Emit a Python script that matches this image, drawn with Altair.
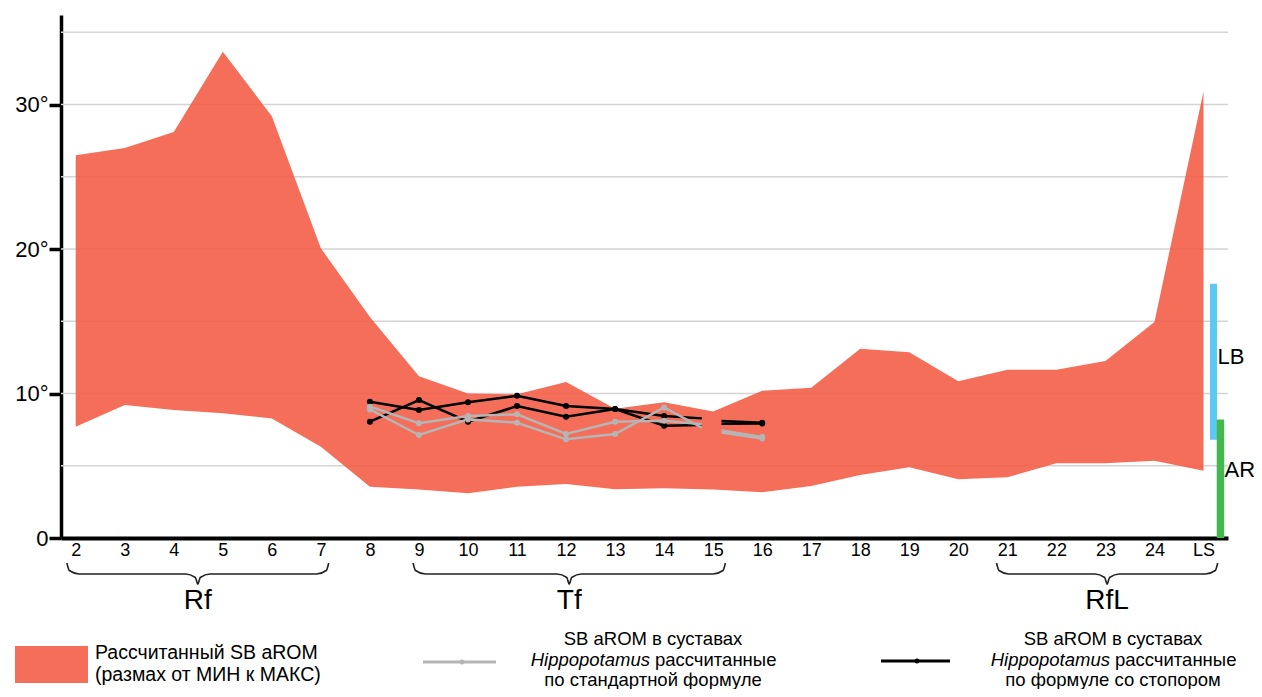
import altair as alt
import pandas as pd

# ---------------- data ----------------
positions = list(range(2, 26))
tick_text = [str(i) for i in range(2, 25)] + ["LS"]
arom_max = [26.5, 27.0, 28.1, 33.65, 29.2, 20.05, 15.3, 11.2, 10.0, 9.95, 10.8, 8.95,
            9.4, 8.75, 10.2, 10.4, 13.1, 12.85, 10.85, 11.65, 11.65, 12.25, 14.95, 30.9]
arom_min = [7.7, 9.2, 8.86, 8.63, 8.28, 6.32, 3.55, 3.35, 3.1, 3.55, 3.74, 3.37,
            3.44, 3.35, 3.16, 3.6, 4.36, 4.89, 4.06, 4.2, 5.17, 5.17, 5.35, 4.66]

hippo_x = [8, 9, 10, 11, 12, 13, 14, 14.77, 15.17, 16]
hippo_seg = [1, 1, 1, 1, 1, 1, 1, 1, 2, 2]
std_1 = [9.09, 7.94, 8.44, 8.56, 7.2, 8.05, 8.12, 7.87, 7.45, 7.0]
std_2 = [8.9, 7.13, 8.21, 7.98, 6.83, 7.2, 9.04, 7.63, 7.3, 6.88]
stop_1 = [9.43, 8.86, 9.39, 9.85, 9.13, 8.93, 8.44, 8.28, 8.1, 7.97]
stop_2 = [8.05, 9.55, 8.05, 9.13, 8.4, 8.93, 7.77, 7.82, 7.9, 7.92]

lb_range = [6.8, 17.6]
ar_range = [0.0, 8.2]
lb_label_y = 12.5
ar_label_y = 4.7

y_tick_values = [0, 10, 20, 30]
grid_values = [5, 10, 15, 20, 25, 30, 35]

groups = ["Rf", "Tf", "RfL"]
group_start = [1.82, 8.88, 20.78]
group_end = [7.16, 15.25, 25.29]

legend_area_text = ["Рассчитанный SB aROM", "(размах от МИН к МАКС)"]
legend_std_text = ["SB aROM в суставах", "рассчитанные", "по стандартной формуле"]
legend_stop_text = ["SB aROM в суставах", "рассчитанные", "по формуле со стопором"]
legend_italic = "Hippopotamus"

# ---------------- layout ----------------
W, H = 1167, 523
YMAX = 36.2
PPU = H / YMAX
FONT = "Liberation Sans"
RED = "#f25a43"
GRAY = "#b5b5b5"

x_scale = alt.Scale(domain=[1.7, 25.5], nice=False, zero=False)
y_scale = alt.Scale(domain=[0, YMAX], nice=False, zero=False)
label_arr = "[" + ",".join("'%s'" % t for t in tick_text) + "]"
x_axis = alt.Axis(values=positions, labelExpr=label_arr + "[datum.value - 2]",
                  ticks=False, grid=False, title=None, domainColor="black",
                  domainWidth=4, labelFont=FONT, labelFontSize=18,
                  labelColor="black", labelPadding=3, labelFlush=False)
y_axis = alt.Axis(values=y_tick_values,
                  labelExpr="datum.value == 0 ? '0' : datum.value + '°'",
                  grid=False, title=None, domainColor="black", domainWidth=3.5,
                  tickColor="black", tickWidth=3.5, tickSize=12,
                  labelFont=FONT, labelFontSize=22, labelColor="black",
                  labelPadding=1)


def X(field):
    return alt.X(field, type="quantitative", scale=x_scale, axis=x_axis)


def Y(field):
    return alt.Y(field, type="quantitative", scale=y_scale, axis=y_axis)


def px_val(cy):
    return (H - cy) / PPU


# ---------------- tables ----------------
area_df = pd.DataFrame({"x": positions, "hi": arom_max, "lo": arom_min})
grid_df = pd.DataFrame({"g": grid_values})

rows = []
for name, kind, vals in [("s1", "std", std_1), ("s2", "std", std_2),
                         ("b1", "stop", stop_1), ("b2", "stop", stop_2)]:
    for xv, sg, v in zip(hippo_x, hippo_seg, vals):
        rows.append({"x": xv, "seg": sg, "v": v, "series": name, "kind": kind})
hippo_df = pd.DataFrame(rows)
hippo_df["joint"] = hippo_df["x"] == hippo_df["x"].round()

bar_df = pd.DataFrame({"x": [25, 25], "lo": [lb_range[0], ar_range[0]],
                       "hi": [lb_range[1], ar_range[1]], "name": ["LB", "AR"],
                       "ly": [lb_label_y, ar_label_y]})

brace_rows = []
for g, a, b in zip(groups, group_start, group_end):
    m = (a + b) / 2
    pts = [(a, 548), (a + 0.05, 555.5), (a + 0.25, 559), (m - 0.25, 559),
           (m - 0.05, 562.5), (m, 569), (m + 0.05, 562.5), (m + 0.25, 559),
           (b - 0.25, 559), (b - 0.05, 555.5), (b, 548)]
    for i, (xx, cy) in enumerate(pts):
        brace_rows.append({"g": g, "i": i, "x": xx, "v": px_val(cy)})
brace_df = pd.DataFrame(brace_rows)
brace_lab_df = pd.DataFrame({"g": groups,
                             "x": [(a + b) / 2 for a, b in zip(group_start, group_end)]})

# ---------------- layers ----------------
grid = alt.Chart(grid_df).mark_rule(color="#d4d4d4", strokeWidth=1.5).encode(
    y=Y("g"), x=alt.value(0), x2=alt.value(W))

area = alt.Chart(area_df).mark_area(color=RED, opacity=0.88).encode(
    x=X("x"), y=Y("hi"), y2="lo")

stop_lines = alt.Chart(hippo_df).transform_filter("datum.kind == 'stop'").mark_line(
    color="black", strokeWidth=2.5).encode(
    x=X("x"), y=Y("v"), detail=["series:N", "seg:N"], order="x:Q")
std_lines = alt.Chart(hippo_df).transform_filter("datum.kind == 'std'").mark_line(
    color=GRAY, strokeWidth=2.5).encode(
    x=X("x"), y=Y("v"), detail=["series:N", "seg:N"], order="x:Q")
stop_pts = alt.Chart(hippo_df).transform_filter(
    "datum.kind == 'stop' && datum.joint").mark_circle(
    color="black", size=36, opacity=1).encode(x=X("x"), y=Y("v"))
std_pts = alt.Chart(hippo_df).transform_filter(
    "datum.kind == 'std' && datum.joint").mark_circle(
    color=GRAY, size=36, opacity=1).encode(x=X("x"), y=Y("v"))

lb_bar = alt.Chart(bar_df).transform_filter("datum.name == 'LB'").mark_rule(
    color="#5ec8f2", strokeWidth=7, xOffset=10).encode(x=X("x"), y=Y("lo"), y2="hi")
ar_bar = alt.Chart(bar_df).transform_filter("datum.name == 'AR'").mark_rule(
    color="#45b74f", strokeWidth=7.5, xOffset=17).encode(x=X("x"), y=Y("lo"), y2="hi")
lb_txt = alt.Chart(bar_df).transform_filter("datum.name == 'LB'").mark_text(
    align="left", baseline="middle", dx=14, font=FONT, fontSize=22,
    color="black").encode(x=X("x"), y=Y("ly"), text="name:N")
ar_txt = alt.Chart(bar_df).transform_filter("datum.name == 'AR'").mark_text(
    align="left", baseline="middle", dx=21, font=FONT, fontSize=22,
    color="black").encode(x=X("x"), y=Y("ly"), text="name:N")

braces = alt.Chart(brace_df).mark_line(
    color="#222222", strokeWidth=1.6, interpolate="monotone").encode(
    x=X("x"), y=Y("v"), detail="g:N", order="i:Q")
brace_labels = alt.Chart(brace_lab_df).mark_text(
    font=FONT, fontSize=28, color="black", baseline="middle").encode(
    x=X("x"), y=alt.value(586), text="g:N")

# ---------------- legend (drawn) ----------------
one = pd.DataFrame({"k": [0]})
leg_rect = alt.Chart(one).mark_rect(color=RED, opacity=0.88).encode(
    x=alt.value(-46), x2=alt.value(27), y=alt.value(631), y2=alt.value(668))
left_txt_df = pd.DataFrame({"t": legend_area_text, "py": [644, 666]})
leg_left_txt = alt.Chart(left_txt_df).mark_text(
    align="left", baseline="alphabetic", font=FONT, fontSize=19.5,
    color="black").encode(
    x=alt.value(34), y=alt.Y("py:Q", scale=None), text="t:N")

C2, C3 = 592, 1052
B1, B2, B3 = 630, 651, 671   # baselines (chart px) of the three legend lines
ctr_df = pd.DataFrame({
    "t": [legend_std_text[0], legend_std_text[2], legend_stop_text[0], legend_stop_text[2]],
    "px": [C2, C2, C3, C3], "py": [B1, B3, B1, B3]})
leg_ctr_txt = alt.Chart(ctr_df).mark_text(
    align="center", baseline="alphabetic", font=FONT, fontSize=18.5,
    color="black").encode(
    x=alt.X("px:Q", scale=None), y=alt.Y("py:Q", scale=None), text="t:N")
ital_df = pd.DataFrame({"t": [legend_italic, legend_italic], "px": [C2 - 3, C3 - 3],
                        "py": [B2, B2]})
leg_ital = alt.Chart(ital_df).mark_text(
    align="right", baseline="alphabetic", font=FONT, fontSize=18.5,
    fontStyle="italic", color="black").encode(
    x=alt.X("px:Q", scale=None), y=alt.Y("py:Q", scale=None), text="t:N")
rest_df = pd.DataFrame({"t": [legend_std_text[1], legend_stop_text[1]],
                        "px": [C2 + 2, C3 + 2], "py": [B2, B2]})
leg_rest = alt.Chart(rest_df).mark_text(
    align="left", baseline="alphabetic", font=FONT, fontSize=18.5,
    color="black").encode(
    x=alt.X("px:Q", scale=None), y=alt.Y("py:Q", scale=None), text="t:N")

leg_lines_df = pd.DataFrame({"kind": ["std", "stop"], "x1": [362, 820], "x2": [435, 889],
                             "xm": [401, 856], "py": [647, 646]})
leg_std_line = alt.Chart(leg_lines_df).transform_filter("datum.kind == 'std'").mark_rule(
    color=GRAY, strokeWidth=3).encode(
    x=alt.X("x1:Q", scale=None), x2="x2:Q", y=alt.Y("py:Q", scale=None))
leg_stop_line = alt.Chart(leg_lines_df).transform_filter("datum.kind == 'stop'").mark_rule(
    color="black", strokeWidth=3).encode(
    x=alt.X("x1:Q", scale=None), x2="x2:Q", y=alt.Y("py:Q", scale=None))
leg_std_dot = alt.Chart(leg_lines_df).transform_filter("datum.kind == 'std'").mark_circle(
    color=GRAY, size=25, opacity=1).encode(
    x=alt.X("xm:Q", scale=None), y=alt.Y("py:Q", scale=None))
leg_stop_dot = alt.Chart(leg_lines_df).transform_filter("datum.kind == 'stop'").mark_circle(
    color="black", size=25, opacity=1).encode(
    x=alt.X("xm:Q", scale=None), y=alt.Y("py:Q", scale=None))

chart = alt.layer(
    grid, area, stop_lines, std_lines, stop_pts, std_pts,
    lb_bar, ar_bar, lb_txt, ar_txt, braces, brace_labels,
    leg_rect, leg_left_txt, leg_ctr_txt, leg_ital, leg_rest,
    leg_std_line, leg_stop_line, leg_std_dot, leg_stop_dot,
).properties(
    width=W, height=H,
    autosize=alt.AutoSizeParams(type="none"),
    padding={"left": 53, "top": 7, "right": 26, "bottom": 151},
    background="white",
).configure_view(stroke=None)

chart.save("out.html", embed_options={"renderer": "svg", "actions": False})
